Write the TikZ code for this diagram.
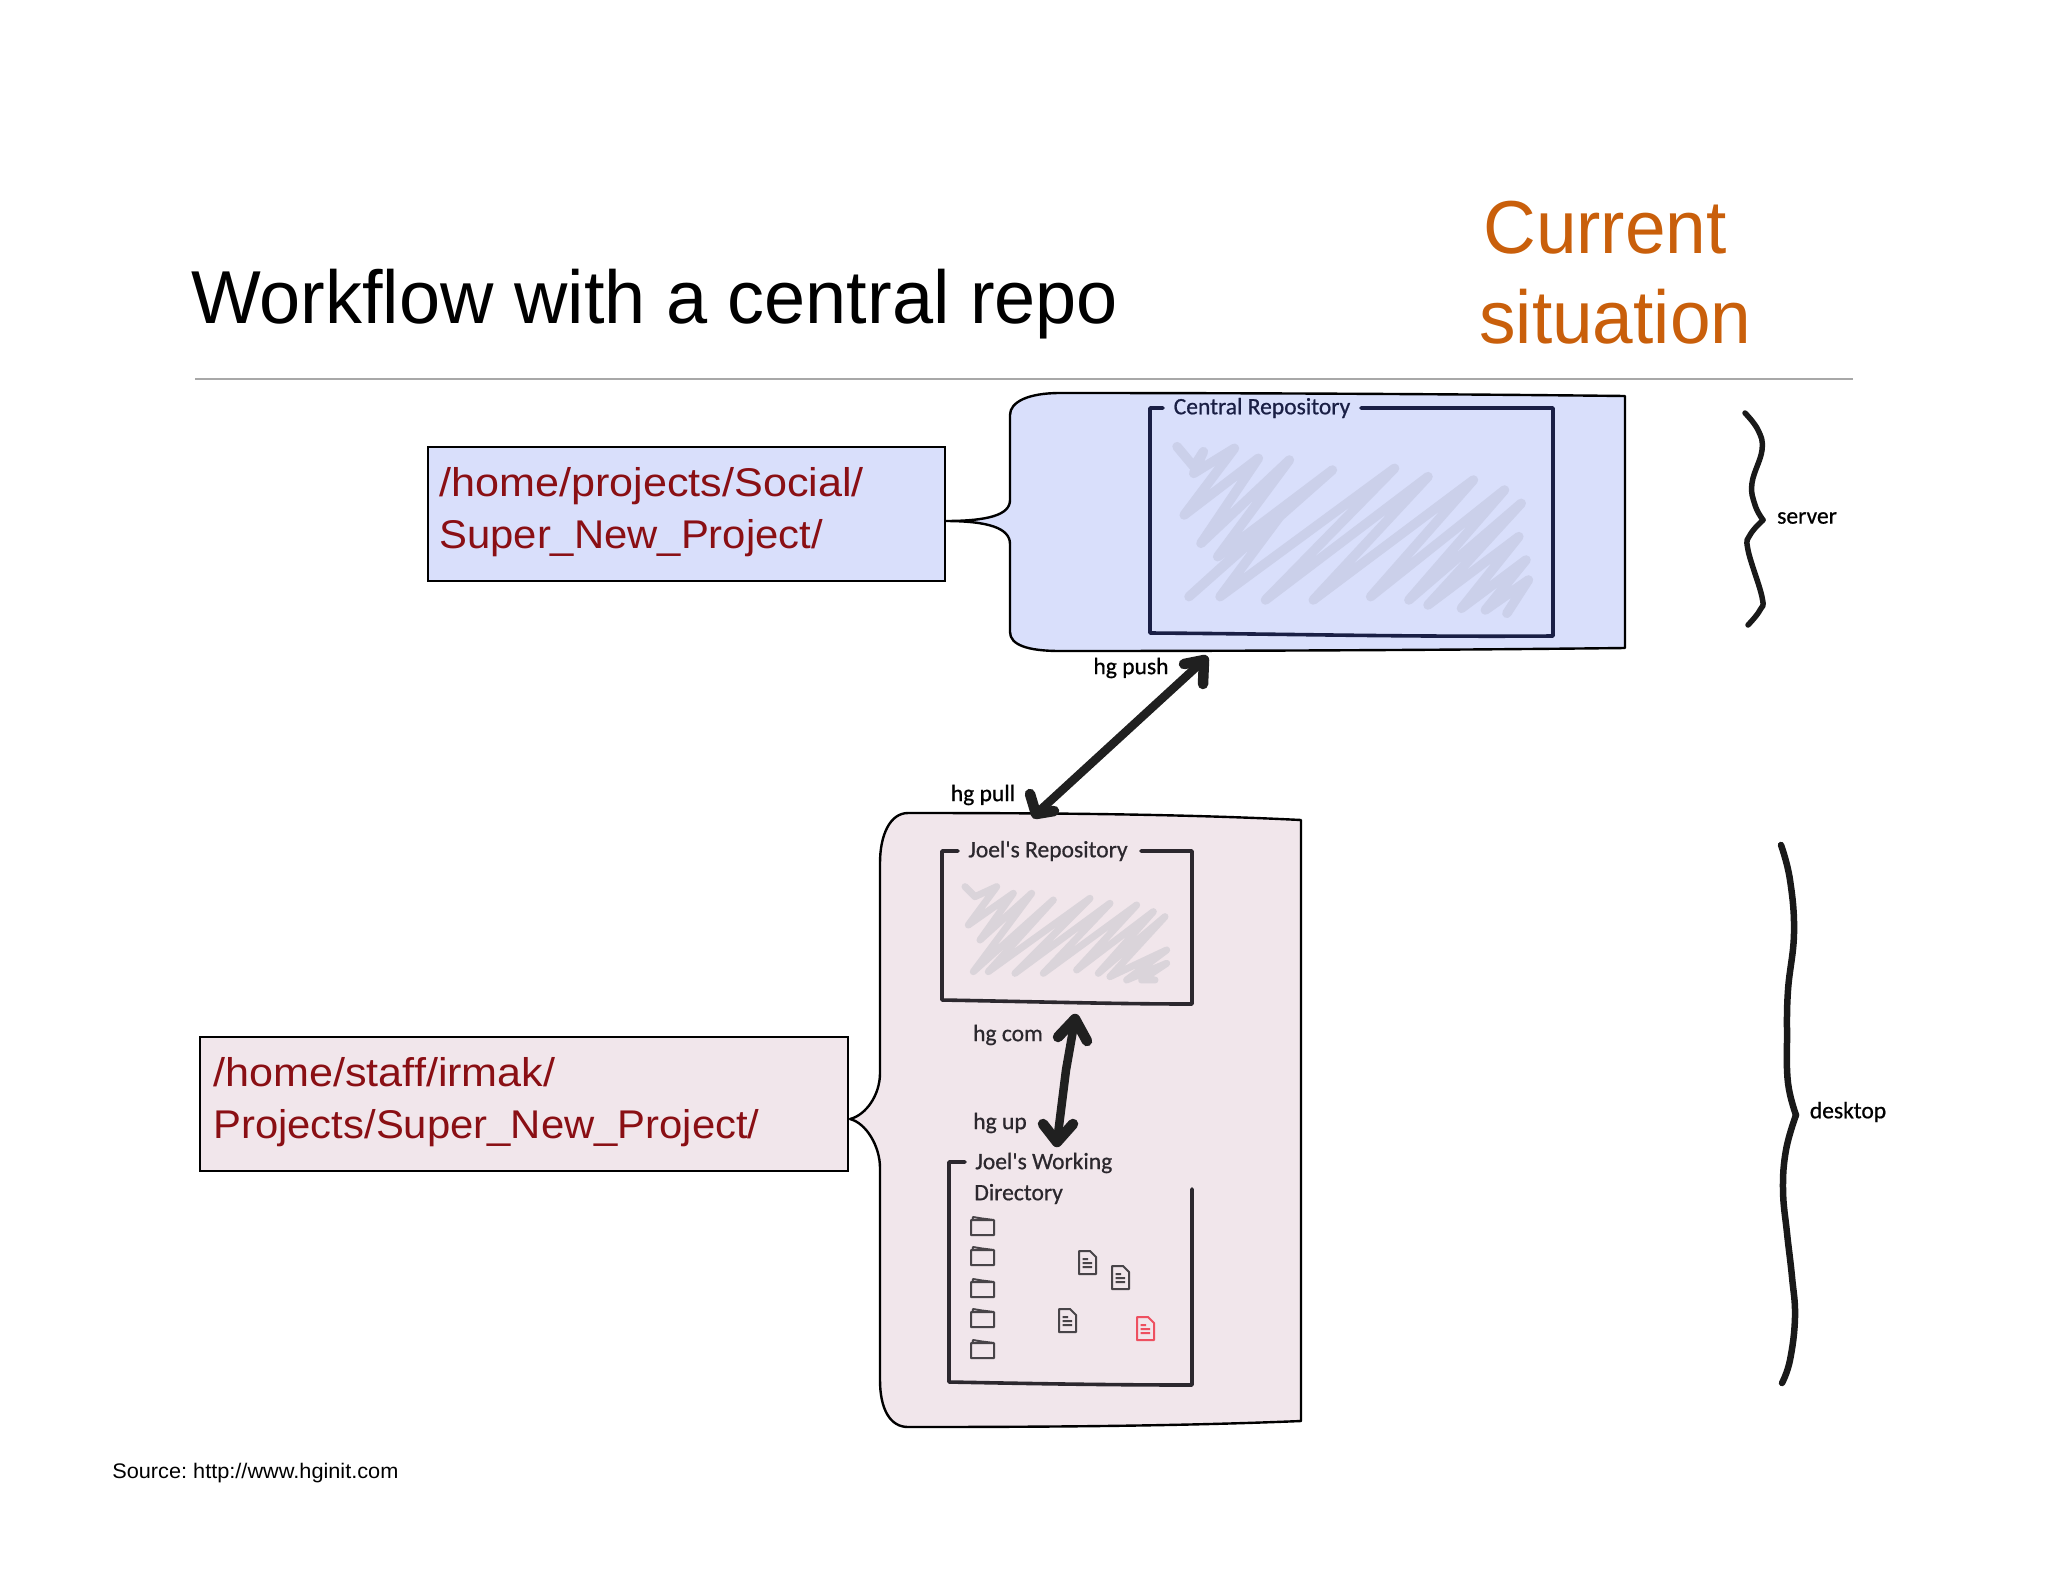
\documentclass[tikz,border=0pt]{standalone}
\usepackage{fontspec}
\setmainfont{Liberation Sans}
\newfontfamily\titlefont[FakeStretch=0.985]{Liberation Sans}
\newfontfamily\orangefont[FakeStretch=0.973]{Liberation Sans}
\newfontfamily\pathfirst[FakeStretch=1.077]{Liberation Sans}
\newfontfamily\pathsecond[FakeStretch=1.044]{Liberation Sans}
\newfontfamily\sourcefont[FakeStretch=1.03]{Liberation Sans}
\newfontfamily\handfont[FakeBold=0.7]{Carlito}
\definecolor{bluefill}{HTML}{D9DFFB}
\definecolor{pinkfill}{HTML}{F1E6EB}
\definecolor{pathred}{HTML}{8A0F14}
\definecolor{sitorange}{HTML}{C95F0B}
\definecolor{rulegrey}{HTML}{A8A8A8}
\definecolor{navyink}{HTML}{1A1F45}
\definecolor{pinkink}{HTML}{2C282E}
\definecolor{bluescrib}{HTML}{CBD0EA}
\definecolor{pinkscrib}{HTML}{DAD4DA}
\definecolor{arrowink}{HTML}{202020}
\definecolor{iconink}{HTML}{484448}
\definecolor{iconred}{HTML}{EE5060}
\tikzset{
  callout/.style={draw=black,line width=2.4*0.569pt,line join=round},
  labelbox/.style={draw=black,line width=2.4*0.569pt,inner sep=0pt,anchor=north west},
  pathtext/.style={anchor=base west,inner sep=0pt,text=pathred},
  handtext/.style={inner sep=0pt,font=\handfont\fontsize{13.4pt}{16pt}\selectfont},
  frameline/.style={line width=3.6*0.569pt,line cap=round,line join=round},
  scribble/.style={line width=9.5*0.569pt,line cap=round,line join=round},
  handarrow/.style={draw=arrowink,line width=8.5*0.569pt,line cap=round,line join=round},
  handbarb/.style={draw=arrowink,line width=10.5*0.569pt,line cap=round,line join=round},
  bracestroke/.style={draw=black!90,line width=5.5*0.569pt,line cap=round,line join=round},
  pics/folderpic/.style={code={
    \draw[iconink,line width=2*0.569pt,line join=round]
      (0,3) rectangle (23,18)
      (1.5,3) -- (2,0) -- (11,1.5) -- (23,3);
  }},
  pics/docpic/.style={code={
    \draw[#1,line width=2*0.569pt,line join=round]
      (0,0) -- (11,0) -- (17,6) -- (17,23) -- (0,23) -- cycle
      (3.5,8) -- (9,8) (3.5,12) -- (13,12) (3.5,16) -- (13,16);
  }},
}
\begin{document}
\frenchspacing
\begin{tikzpicture}[x=0.02cm,y=-0.02cm]
\path[use as bounding box,fill=white] (0,0) rectangle (2048,1582);

% titles
\node[anchor=base west,inner sep=0pt,font=\titlefont\fontsize{42.7pt}{50pt}\selectfont] (title) at (191,323) {Workflow with a central repo};
\node[anchor=base west,inner sep=0pt,text=sitorange,font=\orangefont\fontsize{42.7pt}{50pt}\selectfont] (current) at (1483,253) {Current};
\node[anchor=base west,inner sep=0pt,text=sitorange,font=\orangefont\fontsize{42.7pt}{50pt}\selectfont] (situation) at (1479,343) {situation};
\coordinate (ruleL) at (195,379);
\coordinate (ruleR) at (1853,379);
\draw[rulegrey,line width=2*0.569pt] (ruleL) -- (ruleR);

% callouts
\coordinate (bluetip) at (945,521);
\coordinate (pinktip) at (850,1119);
\draw[callout,fill=bluefill] (bluetip)
  .. controls (988,521) and (1010,515) .. (1010,500) -- (1010,415)
  .. controls (1010,402) and (1028,393) .. (1060,393)
  .. controls (1250,393) and (1450,394) .. (1625,396) -- (1625,648)
  .. controls (1450,650) and (1250,651) .. (1060,651)
  .. controls (1028,651) and (1010,645) .. (1010,632) -- (1010,544)
  .. controls (1010,528) and (988,521) .. cycle;
\draw[callout,fill=pinkfill] (pinktip)
  .. controls (866,1115) and (880,1095) .. (880,1073) -- (880,863)
  .. controls (880,835) and (890,813) .. (908,813)
  .. controls (1050,813) and (1180,814) .. (1301,820) -- (1301,1421)
  .. controls (1180,1426) and (1050,1427) .. (908,1427)
  .. controls (890,1427) and (880,1409) .. (880,1380) -- (880,1168)
  .. controls (880,1146) and (866,1123) .. cycle;

% path labels
\node[labelbox,fill=bluefill,minimum width=517*0.569pt,minimum height=134*0.569pt] (bluelabel) at (427,446) {};
\node[pathtext,font=\pathfirst\fontsize{22.8pt}{26pt}\selectfont] (bluepathA) at (439,496) {/home/projects/Social/};
\node[pathtext,font=\pathsecond\fontsize{22.8pt}{26pt}\selectfont] (bluepathB) at (439,548) {Super\_New\_Project/};
\node[labelbox,fill=pinkfill,minimum width=648*0.569pt,minimum height=134*0.569pt] (pinklabel) at (199,1036) {};
\node[pathtext,font=\pathfirst\fontsize{22.8pt}{26pt}\selectfont] (pinkpathA) at (213,1086) {/home/staff/irmak/};
\node[pathtext,font=\pathsecond\fontsize{22.8pt}{26pt}\selectfont] (pinkpathB) at (213,1138) {Projects/Super\_New\_Project/};
\node[anchor=base west,inner sep=0pt,font=\sourcefont\fontsize{12pt}{14pt}\selectfont] (source) at (112,1478) {Source: http://www.hginit.com};

% central repository frame
\begin{scope}[shift={(950,370)},xscale=0.478,yscale=0.3333]
\draw[bluescrib,scribble] (475,230) -- (510,290) -- (530,245) -- (510,310) -- (595,235) -- (490,435) -- (645,265) -- (525,520) -- (710,270) -- (560,560) -- (800,300) -- (500,680) -- (700,420) -- (565,680) -- (930,295) -- (660,690) -- (1000,320) -- (760,690) -- (1095,330) -- (880,680) -- (1160,360) -- (960,690) -- (1195,400) -- (1000,705) -- (1190,500) -- (1070,715) -- (1205,570) -- (1120,720) -- (1210,630) -- (1165,730);
\end{scope}
\draw[navyink,frameline] (1163,408) -- (1150,408) -- (1150,633) .. controls (1300,634) and (1400,637) .. (1553,636) -- (1553,408) -- (1361,408);
\node[handtext,text=navyink] (central) at (1262,408) {Central Repository};

% Joel's repository frame
\begin{scope}[shift={(850,780)},scale=0.3333]
\draw[pinkscrib,line width=7*0.569pt,line cap=round,line join=round] (345,320) -- (375,350) -- (440,320) -- (355,435) -- (490,340) -- (390,480) -- (545,340) -- (370,575) -- (610,360) -- (415,575) -- (720,355) -- (495,580) -- (780,370) -- (580,580) -- (860,375) -- (680,570) -- (910,395) -- (745,580) -- (945,410) -- (780,590) -- (950,510) -- (830,600) -- (950,550) -- (875,600) -- (915,600);
\end{scope}
\draw[pinkink,frameline] (958,851) -- (942,851) -- (942,1000) .. controls (1050,1002) and (1120,1004) .. (1192,1004) -- (1192,851) -- (1141,851);
\node[handtext,text=pinkink] (joelrepo) at (1048,851) {Joel's Repository};

% working directory frame
\draw[pinkink,frameline] (965,1162) -- (949,1162) -- (949,1382) .. controls (1050,1384) and (1120,1385) .. (1192,1385) -- (1192,1189);
\node[handtext,text=pinkink,anchor=west] (joelwork) at (975,1163) {Joel's Working};
\node[handtext,text=pinkink,anchor=west] (joeldir) at (974,1194) {Directory};
\pic at (971,1217) {folderpic};
\pic at (971,1247) {folderpic};
\pic at (971,1279) {folderpic};
\pic at (971,1309) {folderpic};
\pic at (971,1340) {folderpic};
\pic at (1079,1251) {docpic={iconink}};
\pic at (1112,1266) {docpic={iconink}};
\pic at (1059,1309) {docpic={iconink}};
\pic at (1137,1317) {docpic={iconred}};

% commands
\coordinate (pullTip) at (1036,814);
\coordinate (pushTip) at (1204,660);
\draw[handarrow] (pullTip) -- (pushTip);
\draw[handbarb] (1184,664) -- (pushTip) -- (1203,684);
\draw[handbarb] (1030,794) -- (pullTip) -- (1054,811);
\coordinate (upperTip) at (1075,1019);
\coordinate (lowerTip) at (1057,1142);
\draw[handarrow] (upperTip) -- (1066,1070) -- (lowerTip);
\draw[handbarb] (1058,1037) -- (upperTip) -- (1087,1041);
\draw[handbarb] (1043,1124) -- (lowerTip) -- (1073,1124);
\node[handtext,text=black] (hgpush) at (1131,668) {hg push};
\node[handtext,text=black] (hgpull) at (983,795) {hg pull};
\node[handtext,text=pinkink] (hgcom) at (1008,1035) {hg com};
\node[handtext,text=pinkink] (hgup) at (1000,1123) {hg up};

% braces
\draw[bracestroke] plot[smooth,tension=0.7] coordinates {(1745,413) (1758,430) (1762,450) (1752,483) (1755,505) (1763,520)};
\draw[bracestroke] plot[smooth,tension=0.7] coordinates {(1763,520) (1750,535) (1748,550) (1762,597) (1760,610) (1748,625)};
\node[handtext,text=black] (server) at (1807,518) {server};
\draw[bracestroke,line width=6.5*0.569pt] plot[smooth,tension=0.7] coordinates {(1781,845) (1790,880) (1794,933) (1788,990) (1787,1037) (1788,1083) (1796,1115)};
\draw[bracestroke,line width=6.5*0.569pt] plot[smooth,tension=0.7] coordinates {(1796,1115) (1786,1150) (1783,1190) (1787,1233) (1792,1277) (1795,1317) (1790,1360) (1782,1383)};
\node[handtext,text=black] (desktop) at (1848,1112) {desktop};
\end{tikzpicture}
\end{document}
